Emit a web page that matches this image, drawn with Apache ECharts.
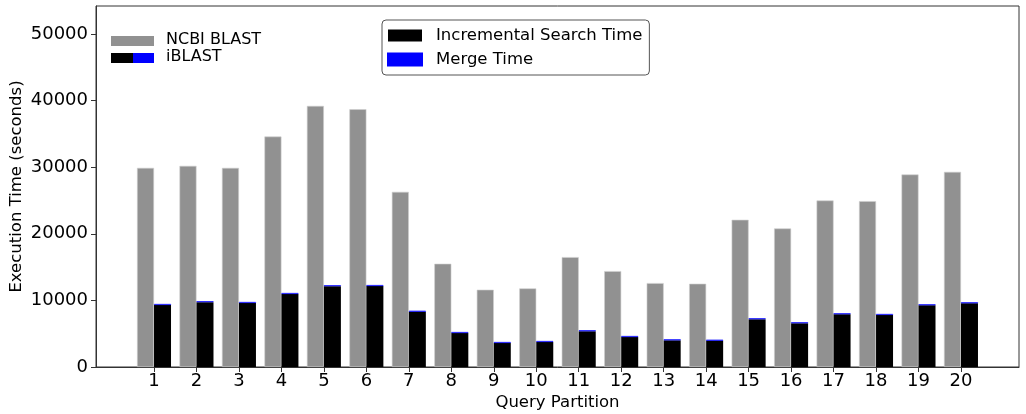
<!DOCTYPE html>
<html>
<head>
<meta charset="utf-8">
<script src="https://cdn.jsdelivr.net/npm/echarts@6/dist/echarts.min.js"></script>
<style>
html,body{margin:0;padding:0;background:#fff;}
#chart{width:1026px;height:414px;}
</style>
</head>
<body>
<div id="chart"></div>
<script>
var partitions = [1,2,3,4,5,6,7,8,9,10,11,12,13,14,15,16,17,18,19,20];
var ncbiBlast = [29900,30200,29900,34600,39200,38700,26300,15500,11600,11800,16500,14400,12600,12500,22100,20800,25000,24900,28900,29300];
var incrementalSearch = [9310,9720,9610,10960,12120,12150,8300,5100,3600,3750,5360,4500,4000,3950,7160,6560,7910,7810,9260,9560];
var mergeTime = [150,140,150,150,140,150,150,150,150,140,150,150,150,150,150,150,150,150,150,150];
var yTicks = [0,10000,20000,30000,40000,50000];

var FONT = 'DejaVu Sans';
var chart = echarts.init(document.getElementById('chart'), null, {renderer:'canvas'});
// value first, partition second, so the stacked dimension is the value
function pairs(arr){ return partitions.map(function(p,i){ return [arr[i], p]; }); }

chart.setOption({
  animation:false,
  backgroundColor:'#fff',
  textStyle:{fontFamily:FONT},
  grid:{left:96,right:7,top:6,bottom:47,show:true,borderColor:'#333',borderWidth:1,backgroundColor:'transparent',
        containLabel:false,outerBoundsMode:'none'},
  xAxis:{
    type:'value', min:-0.366, max:21.366,
    name:'Query Partition', nameLocation:'middle', nameGap:27, nameMoveOverlap:false,
    nameTextStyle:{fontFamily:FONT,fontSize:16.5,color:'#000'},
    axisLine:{show:true,onZero:false,lineStyle:{color:'#333',width:1}},
    axisTick:{show:true,length:5,inside:false,customValues:partitions,lineStyle:{color:'#333'}},
    axisLabel:{customValues:partitions,fontFamily:FONT,fontSize:18,color:'#000',margin:5,
               formatter:function(v){return String(v);}},
    splitLine:{show:false}
  },
  yAxis:{
    type:'value', min:0, max:54200,
    name:'Execution Time (seconds)', nameLocation:'middle', nameGap:71, nameMoveOverlap:false,
    nameTextStyle:{fontFamily:FONT,fontSize:16.5,color:'#000'},
    axisLine:{show:true,onZero:false,lineStyle:{color:'#333',width:1}},
    axisTick:{show:true,length:5,customValues:yTicks,lineStyle:{color:'#333'}},
    axisLabel:{customValues:yTicks,fontFamily:FONT,fontSize:18,color:'#000',margin:8,
               formatter:function(v){return String(v);}},
    splitLine:{show:false}
  },
  legend:{
    data:['Incremental Search Time','Merge Time'],
    orient:'vertical', left:382, top:20,
    padding:[7,7,7,5],
    itemWidth:34, itemHeight:12, itemGap:7,
    borderColor:'#555', borderWidth:1, borderRadius:4,
    icon:'rect',
    textStyle:{fontFamily:FONT,fontSize:16.5,color:'#000',padding:[0,0,0,9]}
  },
  graphic:[
    {type:'rect',left:111,top:36,shape:{width:43,height:10},style:{fill:'#919191'}},
    {type:'text',left:166,top:32,style:{text:'NCBI BLAST',font:'16px "DejaVu Sans"',fill:'#000'}},
    {type:'rect',left:111,top:53,shape:{width:22,height:10},style:{fill:'#000'}},
    {type:'rect',left:133,top:53,shape:{width:21,height:10},style:{fill:'#0000ff'}},
    {type:'text',left:166,top:49,style:{text:'iBLAST',font:'16px "DejaVu Sans"',fill:'#000'}}
  ],
  series:[
    {name:'NCBI BLAST',type:'bar',data:pairs(ncbiBlast),encode:{x:1,y:0},barWidth:17,barGap:'0%',
     itemStyle:{color:'#919191',borderColor:'#cfcfcf',borderWidth:0.6}},
    {name:'Incremental Search Time',type:'bar',stack:'ib',data:pairs(incrementalSearch),encode:{x:1,y:0},barWidth:17,barGap:'0%',
     itemStyle:{color:'#000'}},
    {name:'Merge Time',type:'bar',stack:'ib',data:pairs(mergeTime),encode:{x:1,y:0},barWidth:17,barGap:'0%',barMinHeight:1,
     itemStyle:{color:'#0000ff',borderColor:'#0000ff',borderWidth:0.5}}
  ]
});
</script>
</body>
</html>
